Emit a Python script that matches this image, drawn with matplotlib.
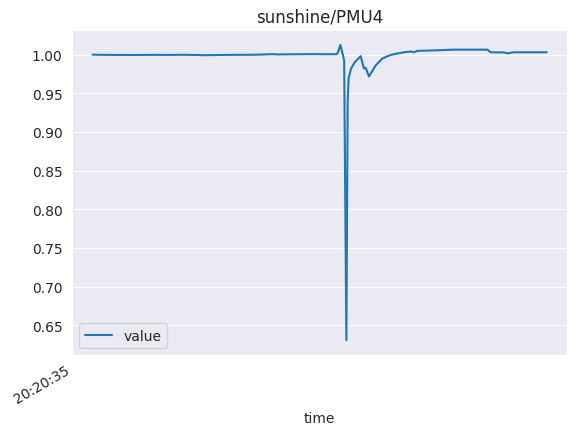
import matplotlib
matplotlib.use("Agg")
import matplotlib.pyplot as plt
import seaborn as sns

# seconds after 20:20:35 and the PMU4 reading
t_sec = [0, 0.5, 2, 4, 6, 7.5, 9, 10.5, 11, 12, 14, 16, 17.5, 18, 18.5, 20, 22, 23, 24.4,
         24.53, 24.77, 25.03, 25.15, 25.37, 25.5, 25.6, 25.7, 25.83, 26.2, 26.8, 27.13,
         27.3, 27.63, 28.3, 28.97, 29.8, 30.3, 31.13, 31.8, 32.13, 32.47, 34.47, 36.1,
         37.8, 39.47, 39.8, 41.1, 41.47, 42.1, 45.4]
value = [1.0000, 0.9998, 0.9996, 0.9995, 0.9997, 0.9996, 0.9998, 0.9995, 0.9992, 0.9994,
         0.9997, 0.9998, 1.0003, 1.0006, 1.0002, 1.0004, 1.0006, 1.0005, 1.0005,
         1.0030, 1.0125, 0.9990, 0.9920, 0.6307, 0.9400, 0.9700, 0.9750, 0.9816, 0.9900,
         0.9980, 0.9820, 0.9830, 0.9717, 0.9860, 0.9950, 0.9996, 1.0010, 1.0030, 1.0040,
         1.0030, 1.0048, 1.0056, 1.0064, 1.0064, 1.0064, 1.0030, 1.0028, 1.0017, 1.0030,
         1.0030]
tick_label = "20:20:35"

sns.set_style("darkgrid")
fig = plt.figure(figsize=(5.77, 4.39), dpi=100)
ax = fig.add_axes([0.125, 0.189, 0.858, 0.740])

ax.plot(t_sec, value, color="#1f77b4", linewidth=1.5, label="value")
ax.margins(x=0.045)
ax.set_title("sunshine/PMU4")
ax.set_xlabel("time")

# pandas puts the time label as a minor tick (no grid line) at the left edge
x0 = ax.get_xlim()[0]
ax.set_xticks([])
ax.set_xticks([x0], minor=True)
ax.set_xticklabels([tick_label], minor=True, rotation=30, ha="right")
ax.legend(loc="lower left")

fig.savefig("out.png")
